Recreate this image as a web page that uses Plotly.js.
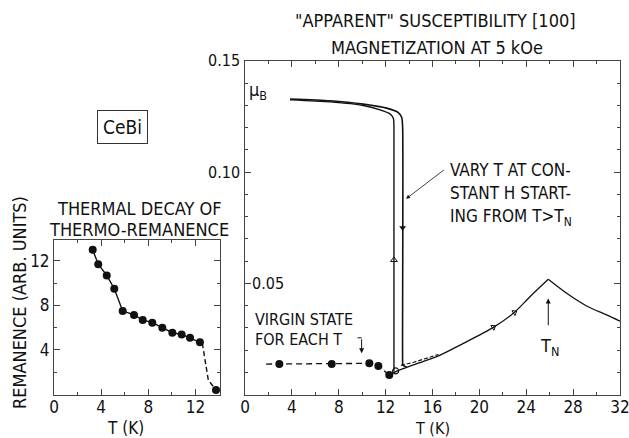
<!DOCTYPE html>
<html>
<head>
<meta charset="utf-8">
<script src="https://cdn.plot.ly/plotly-3.0.1.min.js"></script>
<style>
  html, body { margin: 0; padding: 0; background: #fff; }
  #chart { width: 629px; height: 438px; }
</style>
</head>
<body>
<div id="chart"></div>
<script>
// CeBi: "apparent" [100] susceptibility (magnetization at 5 kOe) versus T,
// with an inset showing the thermal decay of the thermo-remanence.

// ---- main panel: magnetization (mu_B) vs T (K) ----
const mainXTicks = [0, 4, 8, 12, 16, 20, 24, 28, 32];
const mainYTickVals = [0.05, 0.10, 0.15];
const mainYTickText = ['0.05', '0.10', '0.15'];

// outer branch (sweep down in T, arrow pointing down)
const outerT = [3.84, 7.25, 10.1, 12.09, 13.08, 13.37, 13.45, 13.45, 13.47, 13.8];
const outerM = [0.1329, 0.1321, 0.1306, 0.1288, 0.1268, 0.1247, 0.1205, 0.0145, 0.0132, 0.0123];
// inner branch (sweep up in T, arrow pointing up)
const innerT = [3.84, 7.25, 10.1, 11.52, 12.37, 12.66, 12.71, 12.71];
const innerM = [0.1325, 0.1316, 0.1300, 0.1280, 0.1262, 0.1243, 0.1205, 0.0103];
// curve through T_N
const riseT = [12.37, 13.0, 14.36, 16.35, 18.63, 21.19, 22.9, 24.32, 25.88];
const riseM = [0.0088, 0.0106, 0.0133, 0.0170, 0.0230, 0.0302, 0.0365, 0.0440, 0.0518];
const fallT = [25.88, 27.45, 29.15, 30.86, 32.0];
const fallM = [0.0518, 0.0455, 0.0398, 0.0358, 0.0330];
// second (dashed) trace just above the curve right after the jump
const retraceT = [13.3, 14.4, 16.5];
const retraceM = [0.0131, 0.0145, 0.0180];
// virgin state for each T
const virginLineT = [1.8, 2.93, 7.4, 10.61, 11.38, 12.31];
const virginLineM = [0.0137, 0.0137, 0.0137, 0.0140, 0.0128, 0.0088];
const virginT = [2.93, 7.4, 10.61, 11.38, 12.31];
const virginM = [0.0137, 0.0137, 0.0140, 0.0128, 0.0088];
const openPtT = [12.85];
const openPtM = [0.0106];
// direction arrows along the curves
const downArrowT = [13.45], downArrowM = [0.075];
const upArrowT = [12.71], upArrowM = [0.0605];
const warmArrowT = [21.2, 23.0], warmArrowM = [0.0303, 0.0369];
const TN = 25.88;

// ---- inset: remanence vs T ----
const insetXTicks = [0, 4, 8, 12];
const insetYTicks = [4, 8, 12];
const remT = [3.28, 3.75, 4.47, 5.11, 5.82, 6.78, 7.52, 8.33, 9.18, 10.03, 10.82, 11.53, 12.37, 13.73];
const remV = [13.0, 11.7, 10.7, 9.5, 7.5, 7.15, 6.7, 6.45, 6.0, 5.55, 5.4, 5.1, 4.7, 0.4];
const remLineT = [3.28, 3.75, 4.47, 5.11, 5.82, 6.78, 7.52, 8.33, 9.18, 10.03, 10.82, 11.53, 12.37, 12.57];
const remLineV = [13.0, 11.7, 10.7, 9.5, 7.5, 7.15, 6.7, 6.45, 6.0, 5.55, 5.4, 5.1, 4.7, 4.6];
const remTailT = [12.57, 13.08, 13.73];
const remTailV = [4.6, 1.3, 0.4];

const FONT = '"Liberation Sans Narrow", "DejaVu Sans Condensed", "Arial Narrow", sans-serif';
const INK = '#111';
const AXIS = '#444';
const W = 629, H = 438;
const px = p => p / W;
const py = p => 1 - p / H;

const line = (x, y, xa, ya, extra) => Object.assign({
  type: 'scatter', mode: 'lines', x, y, xaxis: xa, yaxis: ya,
  line: { color: INK, width: 1.5 }, hoverinfo: 'skip'
}, extra || {});

const traces = [
  // main panel
  line(outerT, outerM, 'x', 'y', { line: { color: INK, width: 1.6, shape: 'spline', smoothing: 0.6 } }),
  line(innerT, innerM, 'x', 'y', { line: { color: INK, width: 1.4, shape: 'spline', smoothing: 0.6 } }),
  line(riseT, riseM, 'x', 'y', { line: { color: INK, width: 1.3, shape: 'spline', smoothing: 0.8 } }),
  line(fallT, fallM, 'x', 'y', { line: { color: INK, width: 1.3, shape: 'spline', smoothing: 0.8 } }),
  line(retraceT, retraceM, 'x', 'y', { line: { color: INK, width: 1.2, dash: '4px,2px' } }),
  line(virginLineT, virginLineM, 'x', 'y', { line: { color: INK, width: 1.3, dash: '6px,4px' } }),
  { type: 'scatter', mode: 'markers', x: virginT, y: virginM, xaxis: 'x', yaxis: 'y',
    marker: { color: INK, size: 8, symbol: 'circle' }, hoverinfo: 'skip' },
  { type: 'scatter', mode: 'markers', x: openPtT, y: openPtM, xaxis: 'x', yaxis: 'y',
    marker: { color: INK, size: 6, symbol: 'circle-open', line: { width: 1.2 } }, hoverinfo: 'skip' },
  { type: 'scatter', mode: 'markers', x: downArrowT, y: downArrowM, xaxis: 'x', yaxis: 'y',
    marker: { color: INK, size: 6, symbol: 'triangle-down' }, hoverinfo: 'skip' },
  { type: 'scatter', mode: 'markers', x: upArrowT, y: upArrowM, xaxis: 'x', yaxis: 'y',
    marker: { color: INK, size: 6, symbol: 'triangle-up-open', line: { width: 1 } }, hoverinfo: 'skip' },
  { type: 'scatter', mode: 'markers', x: warmArrowT, y: warmArrowM, xaxis: 'x', yaxis: 'y',
    marker: { color: INK, size: 5, symbol: 'triangle-right-open', angle: -32, line: { width: 1 } }, hoverinfo: 'skip' },
  // inset
  line(remLineT, remLineV, 'x2', 'y2', { line: { color: INK, width: 1.4 } }),
  line(remTailT, remTailV, 'x2', 'y2', { line: { color: INK, width: 1.4, dash: '5px,3px' } }),
  { type: 'scatter', mode: 'markers', x: remT, y: remV, xaxis: 'x2', yaxis: 'y2',
    marker: { color: INK, size: 8, symbol: 'circle' }, hoverinfo: 'skip' }
];

const axisBase = {
  showgrid: false, zeroline: false, showline: true, linecolor: AXIS, linewidth: 1,
  mirror: 'allticks', ticks: 'inside', ticklen: 6, tickcolor: AXIS, tickwidth: 1,
  tickfont: { family: FONT, size: 17, color: INK }, fixedrange: true,
  ticklabeloverflow: 'allow'
};
const minor = (d) => ({ dtick: d, tick0: 0, ticks: 'inside', ticklen: 3, tickcolor: AXIS, tickwidth: 1, showgrid: false });

const ann = (text, x, y, opts) => Object.assign({
  text, x: px(x), y: py(y), xref: 'paper', yref: 'paper', showarrow: false,
  font: { family: FONT, size: 16, color: INK }, xanchor: 'center', yanchor: 'middle'
}, opts || {});

const annotations = [
  ann('"APPARENT" SUSCEPTIBILITY [100]', 435, 21, { font: { family: FONT, size: 18, color: INK } }),
  ann('MAGNETIZATION AT 5 kOe', 437, 47, { font: { family: FONT, size: 18, color: INK } }),
  ann('μ<sub>B</sub>', 258, 91, { font: { family: FONT, size: 18, color: INK } }),
  ann(mainYTickText[2], 242, 61, { xanchor: 'right' }),
  ann(mainYTickText[1], 242, 172, { xanchor: 'right' }),
  ann(mainYTickText[0], 250, 283, { xanchor: 'left' }),
  ann('T (K)', 432, 428, { font: { family: FONT, size: 16, color: INK } }),
  ann('VARY T AT CON-', 448, 170, { xanchor: 'left', font: { family: FONT, size: 17, color: INK } }),
  ann('STANT H START-', 448, 193, { xanchor: 'left', font: { family: FONT, size: 17, color: INK } }),
  ann('ING FROM T&gt;T<sub>N</sub>', 448, 217, { xanchor: 'left', font: { family: FONT, size: 17, color: INK } }),
  ann('VIRGIN STATE', 253, 319, { xanchor: 'left' }),
  ann('FOR EACH T', 253, 339, { xanchor: 'left' }),
  ann('T<sub>N</sub>', 549, 347, { font: { family: FONT, size: 18, color: INK } }),
  ann('CeBi', 122, 127, { font: { family: FONT, size: 19, color: INK },
    bordercolor: '#333', borderwidth: 1, borderpad: 5 }),
  // inset labels
  ann('THERMAL DECAY OF', 139, 208, { font: { family: FONT, size: 18, color: INK } }),
  ann('THERMO-REMANENCE', 139, 229, { font: { family: FONT, size: 18, color: INK } }),
  ann('REMANENCE (ARB. UNITS)', 19, 303, { textangle: -90, font: { family: FONT, size: 18, color: INK } }),
  ann('T (K)', 125, 428, { font: { family: FONT, size: 17, color: INK } }),
  // arrows in data coordinates
  { x: 13.74, y: 0.088, ax: 17.1, ay: 0.1015, xref: 'x', yref: 'y', axref: 'x', ayref: 'y',
    showarrow: true, arrowhead: 2, arrowsize: 1, arrowwidth: 0.8, arrowcolor: INK, text: '' },
  { x: TN, y: 0.0432, ax: TN, ay: 0.0305, xref: 'x', yref: 'y', axref: 'x', ayref: 'y',
    showarrow: true, arrowhead: 2, arrowsize: 1, arrowwidth: 1, arrowcolor: INK, text: '' },
  { x: 9.95, y: 0.0185, ax: 9.95, ay: 0.0255, xref: 'x', yref: 'y', axref: 'x', ayref: 'y',
    showarrow: true, arrowhead: 2, arrowsize: 1, arrowwidth: 1, arrowcolor: INK, text: '' }
];

const shapes = [
  { type: 'line', xref: 'x', yref: 'y', x0: 9.6, y0: 0.0255, x1: 9.95, y1: 0.0255,
    line: { color: INK, width: 1 } }
];

const layout = {
  width: W, height: H,
  margin: { l: 0, r: 0, t: 0, b: 0 },
  paper_bgcolor: '#fff', plot_bgcolor: 'rgba(0,0,0,0)',
  showlegend: false,
  font: { family: FONT, size: 17, color: INK },
  xaxis: Object.assign({}, axisBase, {
    domain: [px(245), px(620)], range: [0, 32], anchor: 'y',
    tickvals: mainXTicks, ticktext: mainXTicks.map(String), minor: minor(2),
    ticklabelstandoff: -3
  }),
  yaxis: Object.assign({}, axisBase, {
    domain: [py(394.5), py(61)], range: [0, 0.15], anchor: 'x',
    tickvals: mainYTickVals, showticklabels: false, minor: minor(0.01)
  }),
  xaxis2: Object.assign({}, axisBase, {
    domain: [px(54), px(220)], range: [0, 14.07], anchor: 'y2',
    tickvals: insetXTicks, ticktext: insetXTicks.map(String), minor: minor(2),
    ticklabelstandoff: -3
  }),
  yaxis2: Object.assign({}, axisBase, {
    domain: [py(394.5), py(240)], range: [0, 13.88], anchor: 'x2',
    tickvals: insetYTicks, ticktext: insetYTicks.map(String), minor: minor(2)
  }),
  annotations, shapes
};

Plotly.newPlot('chart', traces, layout, { staticPlot: true, displayModeBar: false });
</script>
</body>
</html>
